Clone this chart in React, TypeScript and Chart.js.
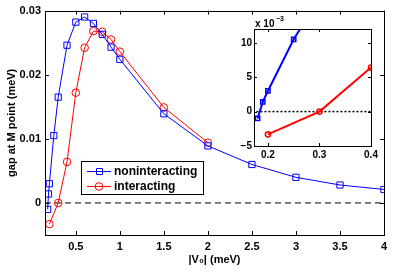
import React, { useEffect, useRef } from 'react';
import { Chart, registerables } from 'chart.js';
Chart.register(...registerables);

// ---- data ----
const v0Non = [0.18, 0.19, 0.2, 0.25, 0.3, 0.4, 0.5, 0.6, 0.7, 0.8, 0.9, 1.0, 1.5, 2, 2.5, 3, 3.5, 4];
const gapNon = [-0.001, 0.0014, 0.003, 0.0105, 0.0165, 0.0246, 0.0282, 0.029, 0.028, 0.0263, 0.0243, 0.0224, 0.0139, 0.0089, 0.006, 0.004, 0.0028, 0.0021];
const v0Int = [0.2, 0.3, 0.4, 0.5, 0.6, 0.7, 0.8, 0.9, 1.0, 1.5, 2];
const gapInt = [-0.0033, 0, 0.0064, 0.0172, 0.0242, 0.0268, 0.0267, 0.0255, 0.0236, 0.0149, 0.0094];
const xTicksMain = [0.5, 1, 1.5, 2, 2.5, 3, 3.5, 4];
const yTicksMain = [0, 0.01, 0.02, 0.03];
const xTicksInset = [0.2, 0.3, 0.4];
const yTicksInset = [-5, 0, 5, 10];
const seriesNames = ['noninteracting', 'interacting'];

const BLUE = '#0000ff';
const RED = '#ff0000';
const FONT = "'Liberation Sans', Arial, Helvetica, sans-serif";

const pts = (xs: number[], ys: number[], k = 1) => xs.map((x, i) => ({ x, y: ys[i] * k }));

const frameTicks = (len: number, lw: number) => ({
  id: 'frameTicks',
  afterDraw(chart: any) {
    const { ctx, chartArea: a, scales } = chart;
    ctx.save();
    ctx.strokeStyle = '#000';
    ctx.lineWidth = lw;
    ctx.beginPath();
    for (const t of scales.x.ticks) {
      const px = Math.round(scales.x.getPixelForValue(t.value)) + 0.5;
      ctx.moveTo(px, a.bottom);
      ctx.lineTo(px, a.bottom - len);
      ctx.moveTo(px, a.top);
      ctx.lineTo(px, a.top + len);
    }
    for (const t of scales.y.ticks) {
      const py = Math.round(scales.y.getPixelForValue(t.value)) + 0.5;
      ctx.moveTo(a.left, py);
      ctx.lineTo(a.left + len, py);
      ctx.moveTo(a.right, py);
      ctx.lineTo(a.right - len, py);
    }
    ctx.stroke();
    ctx.strokeRect(Math.round(a.left) + 0.5, Math.round(a.top) + 0.5, Math.round(a.right - a.left), Math.round(a.bottom - a.top));
    ctx.restore();
  },
});

const legendPlugin = {
  id: 'boxLegend',
  afterDraw(chart: any) {
    const { ctx } = chart;
    ctx.save();
    const bx = 81, by = 161, bw = 122, bh = 33;
    ctx.fillStyle = '#fff';
    ctx.fillRect(bx, by, bw, bh);
    ctx.strokeStyle = '#000';
    ctx.lineWidth = 1;
    ctx.strokeRect(bx + 0.5, by + 0.5, bw, bh);
    const rows = [171, 186];
    const colors = [BLUE, RED];
    rows.forEach((y, i) => {
      ctx.strokeStyle = colors[i];
      ctx.lineWidth = 1;
      ctx.beginPath();
      ctx.moveTo(87, y + 0.5);
      ctx.lineTo(111, y + 0.5);
      ctx.stroke();
      ctx.beginPath();
      if (i === 0) ctx.rect(96.5, y - 2.5, 6, 6);
      else ctx.arc(99, y + 0.5, 3.8, 0, Math.PI * 2);
      ctx.stroke();
      ctx.fillStyle = '#000';
      ctx.font = `bold 12px ${FONT}`;
      ctx.textBaseline = 'middle';
      ctx.fillText(seriesNames[i], 114, y + 1);
    });
    ctx.restore();
  },
};

const insetPlugin = {
  id: 'insetExtras',
  beforeDraw(chart: any) {
    const { ctx, chartArea: a } = chart;
    ctx.save();
    ctx.fillStyle = '#fff';
    ctx.fillRect(a.left, a.top, a.right - a.left, a.bottom - a.top);
    ctx.restore();
  },
  afterDraw(chart: any) {
    const { ctx, chartArea: a } = chart;
    ctx.save();
    ctx.fillStyle = '#000';
    ctx.textBaseline = 'alphabetic';
    ctx.font = `bold 10px ${FONT}`;
    ctx.fillText('x 10', a.left + 1, a.top - 2);
    ctx.font = `bold 7px ${FONT}`;
    ctx.fillText('\u22123', a.left + 22, a.top - 8);
    ctx.restore();
  },
};

export default function App() {
  const mainRef = useRef<HTMLCanvasElement>(null);
  const insetRef = useRef<HTMLCanvasElement>(null);

  useEffect(() => {
    document.body.style.margin = '0';
    Chart.defaults.color = '#000';
    const tickFont = { family: FONT, size: 11, weight: 'bold' as const };

    const main = new Chart(mainRef.current!, {
      type: 'line',
      data: {
        datasets: [
          {
            label: seriesNames[0],
            data: pts(v0Non, gapNon),
            borderColor: BLUE,
            borderWidth: 1,
            pointStyle: 'rect',
            pointRadius: 4.4,
            pointBorderColor: BLUE,
            pointBackgroundColor: 'rgba(0,0,0,0)',
            pointBorderWidth: 1,
          },
          {
            label: seriesNames[1],
            data: pts(v0Int, gapInt),
            borderColor: RED,
            borderWidth: 1,
            pointStyle: 'circle',
            pointRadius: 3.8,
            pointBorderColor: RED,
            pointBackgroundColor: 'rgba(0,0,0,0)',
            pointBorderWidth: 1,
          },
          {
            label: 'zero',
            data: [{ x: 0.15, y: 0 }, { x: 4, y: 0 }],
            borderColor: '#000',
            borderWidth: 1,
            borderDash: [6, 4],
            pointRadius: 0,
          },
        ],
      },
      options: {
        animation: false,
        responsive: false,
        events: [],
        layout: { padding: { top: 9, right: 11, left: 0, bottom: 0 } },
        plugins: { legend: { display: false }, tooltip: { enabled: false } },
        scales: {
          x: {
            type: 'linear',
            min: 0.15,
            max: 4,
            afterBuildTicks: (s: any) => { s.ticks = xTicksMain.map((value) => ({ value })); },
            afterFit: (s: any) => { s.height = 39; },
            grid: { display: false, drawTicks: false },
            border: { display: false },
            ticks: { font: tickFont, padding: 5, maxRotation: 0, autoSkip: false, callback: (v: any) => String(v) },
            title: { display: true, text: '|V\u2080| (meV)', font: { family: FONT, size: 11, weight: 'bold' }, padding: { top: 0, bottom: 7 } },
          },
          y: {
            type: 'linear',
            min: -0.005,
            max: 0.03,
            afterBuildTicks: (s: any) => { s.ticks = yTicksMain.map((value) => ({ value })); },
            afterFit: (s: any) => { s.width = 45; },
            grid: { display: false, drawTicks: false },
            border: { display: false },
            ticks: { font: tickFont, padding: 4, autoSkip: false, callback: (v: any) => String(v) },
            title: { display: true, text: 'gap at M point (meV)', font: { family: FONT, size: 11, weight: 'bold' }, padding: { top: 5, bottom: 0 } },
          },
        },
      },
      plugins: [frameTicks(4, 1), legendPlugin],
    } as any);

    const insetFont = { family: FONT, size: 10, weight: 'bold' as const };
    const inset = new Chart(insetRef.current!, {
      type: 'line',
      data: {
        datasets: [
          {
            label: seriesNames[0],
            data: pts(v0Non, gapNon, 1000),
            borderColor: BLUE,
            borderWidth: 2,
            pointStyle: 'rect',
            pointRadius: 3,
            pointBorderColor: BLUE,
            pointBackgroundColor: 'rgba(0,0,0,0)',
            pointBorderWidth: 1.5,
          },
          {
            label: seriesNames[1],
            data: pts(v0Int, gapInt, 1000),
            borderColor: RED,
            borderWidth: 2,
            pointStyle: 'circle',
            pointRadius: 2.6,
            pointBorderColor: RED,
            pointBackgroundColor: 'rgba(0,0,0,0)',
            pointBorderWidth: 1.5,
          },
          {
            label: 'zero',
            data: [{ x: 0.17, y: 0 }, { x: 0.4, y: 0 }],
            borderColor: '#000',
            borderWidth: 1.5,
            borderDash: [2, 2],
            pointRadius: 0,
          },
        ],
      },
      options: {
        animation: false,
        responsive: false,
        events: [],
        layout: { padding: { top: 17, right: 14, left: 0, bottom: 0 } },
        plugins: { legend: { display: false }, tooltip: { enabled: false } },
        scales: {
          x: {
            type: 'linear',
            min: 0.173,
            max: 0.4,
            afterBuildTicks: (s: any) => { s.ticks = xTicksInset.map((value) => ({ value })); },
            afterFit: (s: any) => { s.height = 16; },
            grid: { display: false, drawTicks: false },
            border: { display: false },
            ticks: { font: insetFont, padding: 3, maxRotation: 0, autoSkip: false, callback: (v: any) => String(v) },
          },
          y: {
            type: 'linear',
            min: -5,
            max: 12,
            afterBuildTicks: (s: any) => { s.ticks = yTicksInset.map((value) => ({ value })); },
            afterFit: (s: any) => { s.width = 29; },
            grid: { display: false, drawTicks: false },
            border: { display: false },
            ticks: { font: insetFont, padding: 2, autoSkip: false, callback: (v: any) => (v < 0 ? '\u2212' + Math.abs(v) : String(v)) },
          },
        },
      },
      plugins: [insetPlugin, frameTicks(3, 1)],
    } as any);

    return () => {
      main.destroy();
      inset.destroy();
    };
  }, []);

  return (
    <div style={{ position: 'relative', width: 395, height: 274, background: '#fff' }}>
      <canvas ref={mainRef} width={395} height={274} style={{ position: 'absolute', left: 0, top: 0, width: 395, height: 274 }} />
      <canvas ref={insetRef} width={160} height={150} style={{ position: 'absolute', left: 225, top: 12, width: 160, height: 150 }} />
    </div>
  );
}
